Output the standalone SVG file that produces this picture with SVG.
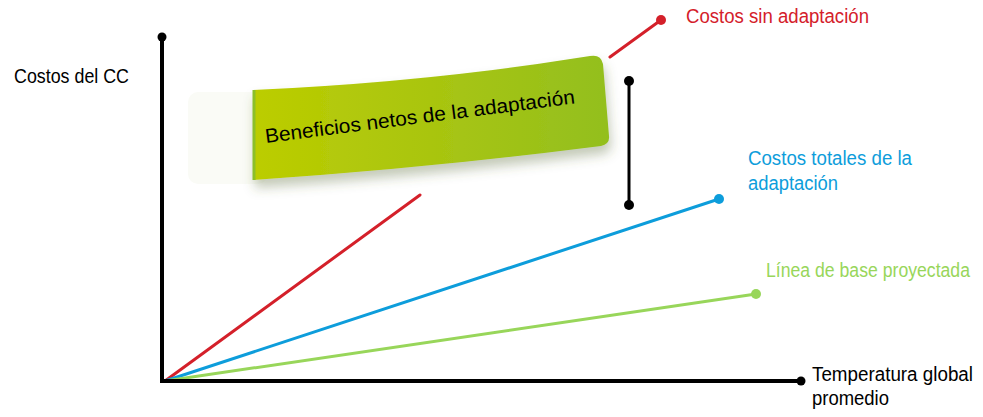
<svg xmlns="http://www.w3.org/2000/svg" width="983" height="417" viewBox="0 0 983 417">
<style>
.lbl{font-family:"Liberation Sans",Arial,sans-serif;font-size:20px}
.ax{stroke:#000;stroke-width:4;fill:none}
.ln{stroke-width:3;fill:none;stroke-linecap:round}
</style>
<defs>
<linearGradient id="g" x1="0" y1="0" x2="1" y2="0">
<stop offset="0" stop-color="#bccd00"/>
<stop offset="0.5" stop-color="#a9c510"/>
<stop offset="1" stop-color="#93bf1f"/>
</linearGradient>
<filter id="sh" x="-10%" y="-20%" width="120%" height="160%">
<feDropShadow dx="2" dy="8" stdDeviation="6" flood-color="#556633" flood-opacity="0.35"/>
</filter>
</defs>
<rect width="983" height="417" fill="#fff"/>
<g id="connectors">
<path class="ln" stroke="#d4202a" d="M165,381 L420,195 M610,57 L661,20"/>
<path class="ln" stroke="#0d9ddb" d="M165,381 L719,199"/>
<path class="ln" stroke="#98d65a" d="M165,381 L756,294"/>
<path class="ax" d="M162,37 V381 H801"/>
<path stroke="#000" stroke-width="3" d="M629,81 V205"/>
</g>
<g id="dots">
<circle cx="162" cy="37" r="4.5"/>
<circle cx="801" cy="381" r="4.5"/>
<circle cx="661" cy="20" r="5" fill="#d4202a"/>
<circle cx="719" cy="199" r="5" fill="#0d9ddb"/>
<circle cx="756" cy="294" r="5" fill="#98d65a"/>
<circle cx="629" cy="81" r="5"/>
<circle cx="629" cy="205" r="5"/>
</g>
<g id="banner">
<rect x="188" y="92" width="80" height="92" rx="10" fill="#fafbf6"/>
<path d="M253,90 Q430,82 590,56 Q601,54 603,64 L609,136 Q610,144 601,146 Q430,168 253,180 Z" fill="url(#g)" filter="url(#sh)"/>
<path d="M254,90 V180" stroke="#8cbf2a" stroke-width="3"/>
<text class="lbl" x="266" y="143" font-size="23" transform="rotate(-7.3 266 143)" textLength="312" lengthAdjust="spacingAndGlyphs">Beneficios netos de la adaptación</text>
</g>
<g id="labels">
<text class="lbl" x="14" y="83" textLength="115" lengthAdjust="spacingAndGlyphs">Costos del CC</text>
<text class="lbl" x="686" y="23" fill="#d4202a" textLength="183" lengthAdjust="spacingAndGlyphs">Costos sin adaptación</text>
<text class="lbl" x="748" y="165" fill="#0d9ddb" textLength="164" lengthAdjust="spacingAndGlyphs">Costos totales de la</text>
<text class="lbl" x="748" y="190" fill="#0d9ddb" textLength="90" lengthAdjust="spacingAndGlyphs">adaptación</text>
<text class="lbl" x="766" y="277" fill="#98d65a" font-size="18" textLength="204" lengthAdjust="spacingAndGlyphs">Línea de base proyectada</text>
<text class="lbl" x="812" y="381" textLength="161" lengthAdjust="spacingAndGlyphs">Temperatura global</text>
<text class="lbl" x="812" y="405" textLength="77" lengthAdjust="spacingAndGlyphs">promedio</text>
</g>
</svg>
